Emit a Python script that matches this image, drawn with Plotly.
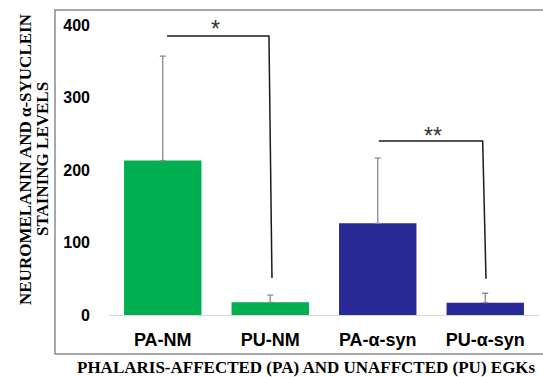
import plotly.graph_objects as go

categories = ["PA-NM", "PU-NM", "PA-α-syn", "PU-α-syn"]
values = [213, 17.5, 126.5, 17]
errors = [144, 10, 90, 13]
colors = ["#00b050", "#00b050", "#282896", "#282896"]
y_ticks = [0, 100, 200, 300, 400]

W, H = 543, 377
L, R, T, B = 109, 4, 12, 62
pw, ph = W - L - R, H - T - B

def px(x):
    return (x - L) / pw

def py(y):
    return (H - B - y) / ph

fig = go.Figure()
fig.add_trace(go.Bar(
    x=categories, y=values, width=0.72,
    marker=dict(color=colors, line=dict(width=0)),
    error_y=dict(type="data", symmetric=False, array=errors,
                 arrayminus=[0, 0, 0, 0], color="#8c8c8c",
                 thickness=1.3, width=3),
))

# significance brackets (data coordinates)
br1 = dict(x0=0.04, x1=0.988, y=385, xb=1.016, yb=51)
br2 = dict(x0=2.01, x1=2.976, y=240, xb=3.007, yb=50)
for b in (br1, br2):
    fig.add_shape(type="path",
                  path=f"M {b['x0']},{b['y']} L {b['x1']},{b['y']} L {b['xb']},{b['yb']}",
                  xref="x", yref="y", line=dict(color="#1a1a1a", width=1.5))

fig.add_annotation(x=0.486, y=394, xref="x", yref="y", text="*", showarrow=False,
                   font=dict(family="Liberation Sans", size=23, color="#333333"))
fig.add_annotation(x=2.51, y=247, xref="x", yref="y", text="**", showarrow=False,
                   font=dict(family="Liberation Sans", size=23, color="#333333"))

# outer frame
fig.add_shape(type="rect", xref="paper", yref="paper",
              x0=px(55), x1=px(548), y0=py(354), y1=py(10),
              line=dict(color="#8c8c8c", width=1.5), layer="below")

ytitle = ["NEUROMELANIN AND α-SYUCLEIN", "STAINING LEVELS"]
for t, xx in zip(ytitle, (25, 42)):
    fig.add_annotation(x=px(xx), y=py(159), xref="paper", yref="paper",
                       xanchor="center", yanchor="middle", text=t,
                       textangle=-90, showarrow=False,
                       font=dict(family="Liberation Serif", size=17, color="black", weight="bold"))
fig.add_annotation(x=px(306), y=py(367), xref="paper", yref="paper",
                   xanchor="center", yanchor="middle",
                   text="PHALARIS-AFFECTED (PA) AND UNAFFCTED (PU) EGKs",
                   showarrow=False,
                   font=dict(family="Liberation Serif", size=17, color="black", weight="bold"))

fig.update_layout(
    width=W, height=H, margin=dict(l=L, r=R, t=T, b=B),
    paper_bgcolor="white", plot_bgcolor="white", showlegend=False,
)
fig.update_xaxes(range=[-0.5, 3.5], showline=True, linecolor="#d9d9d9", linewidth=1,
                 showgrid=False, ticks="", ticklabelstandoff=8,
                 tickfont=dict(family="Liberation Sans", size=18, color="black", weight="bold"))
fig.update_yaxes(range=[0, 418], tickvals=y_ticks, showgrid=False, showline=False,
                 zeroline=False, ticks="", ticklabelstandoff=18,
                 tickfont=dict(family="Liberation Sans", size=16, color="black", weight="bold"))

fig.write_html("out.html", config={"displayModeBar": False},
               post_script="document.body.style.margin='0';document.body.style.overflow='hidden';")
